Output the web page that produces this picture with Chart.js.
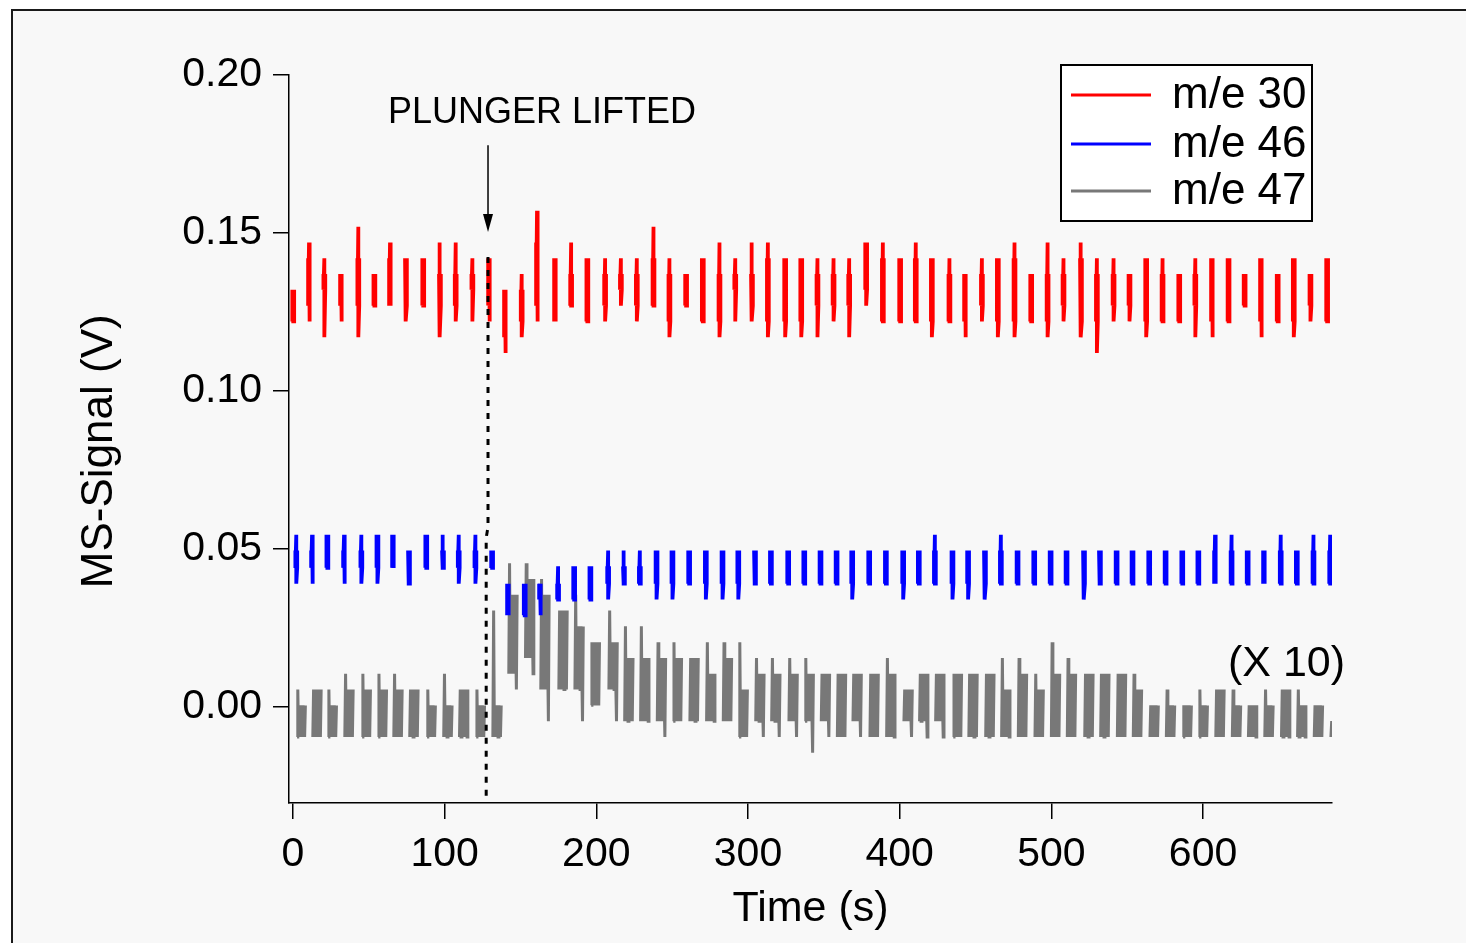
<!DOCTYPE html>
<html>
<head>
<meta charset="utf-8">
<script src="https://cdn.jsdelivr.net/npm/chart.js@4.4.1/dist/chart.umd.min.js"></script>
<style>
html, body { margin: 0; padding: 0; background: #fff; }
#wrap { width: 1466px; height: 943px; }
</style>
</head>
<body>
<div id="wrap"><canvas id="chartMS"></canvas></div>
<script>
// start time (s) of each multiplexed MS scan
const scanTimes = [0.2, 10.6, 20.7, 31.7, 43.1, 53.7, 64.0, 74.5, 85.9, 96.9,
    107.3, 118.3, 129.3, 139.8, 150.8, 160.9, 172.8, 183.4, 194.1, 205.8,
    216.2, 226.7, 237.7, 248.2, 259.2, 270.2, 281.2, 291.6, 302.6, 313.1,
    324.5, 335.1, 345.8, 356.4, 366.7, 377.9, 388.9, 400.3, 410.6, 421.2,
    432.8, 443.1, 454.2, 464.7, 475.7, 486.7, 497.5, 508.0, 519.5, 530.0,
    541.0, 551.5, 562.5, 573.3, 584.3, 594.9, 605.9, 616.8, 627.4, 638.2,
    649.2, 659.8, 670.8, 681.8];

// channel lag inside a scan and dwell of m/e 47 (s)
const lag46 = 2.0;
const lag47 = 2.5;
const dwell47 = 5.5;

// m/e 30: extremes and dense core of every scan (V)
const lo30 = [.122, .122, .117, .122, .117, .127, .127, .122, .127, .117,
    .122, .122, .122, .112, .117, .122, .122, .127, .122, .122,
    .127, .122, .127, .117, .127, .122, .117, .122, .122, .117,
    .117, .117, .117, .122, .117, .127, .122, .122, .122, .117,
    .122, .117, .122, .117, .117, .122, .117, .122, .117, .112,
    .122, .122, .117, .122, .122, .117, .117, .122, .127, .117,
    .122, .117, .122, .122];
const hi30 = [.132, .147, .142, .137, .152, .137, .147, .142, .142, .147,
    .147, .142, .142, .132, .137, .157, .142, .147, .142, .142,
    .142, .142, .152, .142, .137, .142, .147, .142, .147, .147,
    .142, .142, .142, .142, .142, .147, .147, .142, .147, .142,
    .142, .137, .142, .142, .147, .137, .147, .142, .147, .142,
    .142, .137, .142, .142, .137, .142, .142, .142, .137, .142,
    .137, .142, .137, .142];
const coreLo30 = [.122, .127, .132, .127, .127, .127, .127, .127, .127, .127,
    .127, .132, .127, .117, .122, .127, .122, .127, .122, .127,
    .132, .127, .127, .122, .127, .122, .122, .132, .127, .122,
    .122, .122, .127, .127, .127, .132, .122, .122, .122, .122,
    .122, .122, .127, .122, .122, .122, .122, .127, .122, .122,
    .127, .127, .122, .122, .122, .127, .122, .122, .127, .122,
    .122, .122, .127, .122];
const coreHi30 = [.132, .142, .137, .137, .142, .137, .142, .142, .142, .137,
    .137, .137, .142, .132, .132, .147, .142, .137, .142, .137,
    .137, .137, .142, .137, .137, .142, .137, .137, .137, .142,
    .142, .142, .137, .137, .137, .147, .142, .142, .142, .142,
    .137, .137, .137, .142, .142, .137, .137, .137, .142, .137,
    .137, .137, .142, .137, .137, .137, .142, .142, .137, .142,
    .137, .142, .137, .142];

// m/e 46
const lo46 = [.039, .039, .044, .039, .039, .039, .044, .039, .044, .044,
    .039, .039, .044, .029, .029, .029, .034, .034, .034, .034,
    .039, .039, .034, .034, .039, .034, .034, .034, .039, .039,
    .039, .039, .039, .039, .034, .039, .039, .034, .039, .039,
    .034, .034, .034, .039, .039, .039, .039, .039, .034, .039,
    .039, .039, .039, .039, .039, .039, .039, .039, .039, .039,
    .039, .039, .039, .039];
const hi46 = [.0545, .0545, .0545, .0545, .0545, .0545, .0545, .0495, .0545, .0545,
    .0545, .0545, .0495, .039, .039, .039, .0445, .0445, .0445, .0495,
    .0495, .0495, .0495, .0495, .0495, .0495, .0495, .0495, .0495, .0495,
    .0495, .0495, .0495, .0495, .0495, .0495, .0495, .0495, .0495, .0545,
    .0495, .0495, .0495, .0545, .0495, .0495, .0495, .0495, .0495, .0495,
    .0495, .0495, .0495, .0495, .0495, .0495, .0545, .0545, .0495, .0495,
    .0545, .0495, .0545, .0545];
const coreLo46 = [.044, .044, .044, .044, .044, .044, .044, .039, .044, .044,
    .044, .044, .044, .029, .029, .034, .034, .034, .034, .039,
    .039, .039, .039, .039, .039, .039, .039, .039, .039, .039,
    .039, .039, .039, .039, .039, .039, .039, .039, .039, .039,
    .039, .039, .039, .039, .039, .039, .039, .039, .039, .039,
    .039, .039, .039, .039, .039, .039, .039, .039, .039, .039,
    .039, .039, .039, .039];
const coreHi46 = [.0495, .0495, .0545, .0495, .0495, .0545, .0545, .0495, .0545, .0495,
    .0495, .0495, .0495, .039, .039, .039, .039, .0445, .0445, .0445,
    .0445, .0445, .0495, .0495, .0495, .0495, .0495, .0495, .0495, .0495,
    .0495, .0495, .0495, .0495, .0495, .0495, .0495, .0495, .0495, .0495,
    .0495, .0495, .0495, .0495, .0495, .0495, .0495, .0495, .0495, .0495,
    .0495, .0495, .0495, .0495, .0495, .0495, .0495, .0495, .0495, .0495,
    .0495, .0495, .0495, .0495];

// m/e 47 (plotted x 10)
const lo47 = [-.0095, -.0095, -.0095, -.0095, -.0095, -.0095, -.0095, -.0095, -.0095, -.0095,
    -.0095, -.0095, -.0095, .0055, .0105, -.0045, .0055, -.0045, .0005, -.0045,
    -.0045, -.0045, -.0095, -.0045, -.0045, -.0045, -.0045, -.0095, -.0095, -.0095,
    -.0095, -.0145, -.0095, -.0095, -.0095, -.0095, -.0095, -.0095, -.0095, -.0095,
    -.0095, -.0095, -.0095, -.0095, -.0095, -.0095, -.0095, -.0095, -.0095, -.0095,
    -.0095, -.0095, -.0095, -.0095, -.0095, -.0095, -.0095, -.0095, -.0095, -.0095,
    -.0095, -.0095, -.0095, -.0095];
const hi47 = [.0055, .0055, .0055, .0105, .0105, .0105, .0105, .0055, .0055, .0105,
    .0055, .0055, .0305, .0455, .0455, .0405, .0305, .0355, .0205, .0305,
    .0255, .0255, .0205, .0205, .0155, .0205, .0205, .0205, .0155, .0155,
    .0155, .0155, .0105, .0105, .0105, .0105, .0155, .0055, .0105, .0105,
    .0105, .0105, .0105, .0155, .0155, .0105, .0205, .0155, .0105, .0105,
    .0105, .0105, .0005, .0055, .0005, .0055, .0055, .0055, .0005, .0055,
    .0055, .0055, .0005, -.0045];
const coreLo47 = [-.0095, -.0095, -.0095, -.0095, -.0095, -.0095, -.0095, -.0095, -.0095, -.0095,
    -.0095, -.0095, -.0095, .0105, .0155, .0055, .0055, .0055, .0005, .0055,
    -.0045, -.0045, -.0045, -.0045, -.0045, -.0045, -.0045, -.0095, -.0045, -.0045,
    -.0045, -.0045, -.0045, -.0095, -.0045, -.0095, -.0095, -.0045, -.0045, -.0045,
    -.0095, -.0095, -.0095, -.0095, -.0095, -.0095, -.0095, -.0095, -.0095, -.0095,
    -.0095, -.0095, -.0095, -.0095, -.0095, -.0095, -.0095, -.0095, -.0095, -.0095,
    -.0095, -.0095, -.0095, -.0095];
const coreHi47 = [.0005, .0055, .0005, .0055, .0055, .0055, .0055, .0055, .0005, .0005,
    .0055, .0005, .0005, .0355, .0405, .0355, .0305, .0255, .0205, .0205,
    .0155, .0155, .0155, .0155, .0155, .0105, .0155, .0055, .0105, .0105,
    .0105, .0105, .0105, .0105, .0105, .0105, .0105, .0055, .0105, .0105,
    .0105, .0105, .0105, .0055, .0105, .0055, .0105, .0105, .0105, .0105,
    .0105, .0055, .0005, .0005, .0005, .0005, .0055, .0005, .0005, .0005,
    .0055, .0005, .0005, -.0045];

const xTicks = [0, 100, 200, 300, 400, 500, 600];
const yTicks = [0, 0.05, 0.10, 0.15, 0.20];

// m/e 30 and 46: each scan is a narrow stick, thin full range plus a denser core
function stickData(lag, lo, hi, cLo, cHi) {
    const pts = [];
    for (let i = 0; i < scanTimes.length; i++) {
        const t = scanTimes[i] + lag;
        pts.push({x: t - 0.6, y: cHi[i]}, {x: t - 0.6, y: cLo[i]},
            {x: t, y: hi[i]}, {x: t, y: lo[i]},
            {x: t + 0.6, y: cLo[i]}, {x: t + 0.6, y: cHi[i]});
        pts.push({x: t + 1, y: null});
    }
    return pts;
}

// m/e 47 is sampled over a longer dwell, so each scan makes a wider block
function blockData(lag, dwell, lo, hi, cLo, cHi) {
    const pts = [];
    for (let i = 0; i < scanTimes.length; i++) {
        const t0 = scanTimes[i] + lag;
        pts.push({x: t0, y: cLo[i]}, {x: t0 + 0.5, y: hi[i]}, {x: t0 + 1.0, y: cLo[i]});
        let up = true;
        for (let dt = 1.6; dt < dwell - 0.9; dt += 0.6) {
            pts.push({x: t0 + dt, y: up ? cHi[i] : cLo[i]});
            up = !up;
        }
        pts.push({x: t0 + dwell - 0.5, y: lo[i]}, {x: t0 + dwell, y: cHi[i]});
        pts.push({x: t0 + dwell + 0.5, y: null});
    }
    return pts;
}

const FONT = '"Liberation Sans", Arial, Helvetica, sans-serif';

const frame = {
    id: 'frame',
    beforeDraw(chart) {
        const c = chart.ctx;
        c.save();
        c.fillStyle = '#ffffff';
        c.fillRect(0, 0, chart.width, chart.height);
        c.fillStyle = '#f8f8f8';
        c.fillRect(13, 11, chart.width, chart.height);
        c.strokeStyle = '#1a1a1a';
        c.lineWidth = 2;
        c.strokeRect(12, 10, chart.width + 20, chart.height + 20);
        c.restore();
    }
};

// arrow, "PLUNGER LIFTED", "(X 10)"
const notes = {
    id: 'notes',
    afterDatasetsDraw(chart) {
        const c = chart.ctx, xs = chart.scales.x, ys = chart.scales.y;
        const ax = xs.getPixelForValue(128.6);
        const aTop = ys.getPixelForValue(0.1778), aTip = ys.getPixelForValue(0.1503);
        c.save();
        c.strokeStyle = '#000';
        c.fillStyle = '#000';
        c.lineWidth = 1.5;
        c.beginPath();
        c.moveTo(ax, aTop);
        c.lineTo(ax, aTip - 10);
        c.stroke();
        c.beginPath();
        c.moveTo(ax - 5, aTip - 18);
        c.lineTo(ax + 5, aTip - 18);
        c.lineTo(ax, aTip);
        c.closePath();
        c.fill();
        c.font = '36px ' + FONT;
        c.textAlign = 'center';
        c.textBaseline = 'middle';
        c.fillText('PLUNGER LIFTED', xs.getPixelForValue(164.2), ys.getPixelForValue(0.1880));
        c.font = '43px ' + FONT;
        c.fillText('(X 10)', xs.getPixelForValue(655), ys.getPixelForValue(0.0136));
        c.restore();
    }
};

const legendBox = {
    id: 'legendBox',
    afterDraw(chart) {
        const c = chart.ctx;
        const rows = [95, 144, 191];
        c.save();
        c.fillStyle = '#ffffff';
        c.fillRect(1061, 65, 251, 156);
        c.strokeStyle = '#000';
        c.lineWidth = 2;
        c.strokeRect(1061, 65, 251, 156);
        c.font = '44px ' + FONT;
        c.textAlign = 'left';
        c.textBaseline = 'middle';
        for (let i = 0; i < 3; i++) {
            const ds = chart.data.datasets[i];
            c.strokeStyle = ds.borderColor;
            c.lineWidth = 3;
            c.beginPath();
            c.moveTo(1071, rows[i]);
            c.lineTo(1151, rows[i]);
            c.stroke();
            c.fillStyle = '#000';
            c.fillText(ds.label, 1172, rows[i] + 1);
        }
        c.restore();
    }
};

window.onload = function () {
    const ctx = document.getElementById('chartMS').getContext('2d');
    new Chart(ctx, {
        type: 'line',
        data: {
            datasets: [{
                label: 'm/e 30',
                data: stickData(0, lo30, hi30, coreLo30, coreHi30),
                borderColor: '#ff0000',
                borderWidth: 3.8,
                order: 1
            }, {
                label: 'm/e 46',
                data: stickData(lag46, lo46, hi46, coreLo46, coreHi46),
                borderColor: '#0000ff',
                borderWidth: 3.8,
                order: 2
            }, {
                label: 'm/e 47',
                data: blockData(lag47, dwell47, lo47, hi47, coreLo47, coreHi47),
                borderColor: '#787878',
                borderWidth: 3,
                order: 3
            }, {
                label: 'plunger',
                data: [{x: 128.6, y: 0.1424}, {x: 128.6, y: 0.057}, {x: 127.4, y: 0.0535}, {x: 127.4, y: -0.0304}],
                borderColor: '#000000',
                borderWidth: 3,
                borderDash: [6, 7],
                order: 0
            }]
        },
        options: {
            responsive: true,
            maintainAspectRatio: false,
            animation: false,
            spanGaps: false,
            layout: { padding: { top: 75, right: 134, left: 0, bottom: 0 } },
            elements: { point: { radius: 0 }, line: { tension: 0, borderCapStyle: 'butt' } },
            plugins: { legend: { display: false }, tooltip: { enabled: false } },
            scales: {
                x: {
                    type: 'linear',
                    min: -2.6,
                    max: 685,
                    afterFit(s) { s.height = 140; },
                    afterBuildTicks(s) { s.ticks = xTicks.map(v => ({value: v})); },
                    grid: { drawOnChartArea: false, drawTicks: true, tickLength: 16, color: '#000', lineWidth: 1.5 },
                    border: { display: true, color: '#000', width: 1.5 },
                    ticks: { color: '#000', padding: 11, maxRotation: 0, font: { family: FONT, size: 41 } },
                    title: { display: true, text: 'Time (s)', color: '#000', padding: { bottom: 8, top: 0 }, font: { family: FONT, size: 43 } }
                },
                y: {
                    type: 'linear',
                    min: -0.0304,
                    max: 0.2,
                    afterFit(s) { s.width = 289; },
                    afterBuildTicks(s) { s.ticks = yTicks.map(v => ({value: v})); },
                    grid: { drawOnChartArea: false, drawTicks: true, tickLength: 16, color: '#000', lineWidth: 1.5 },
                    border: { display: true, color: '#000', width: 1.5 },
                    ticks: { color: '#000', padding: 11, font: { family: FONT, size: 41 }, callback: v => v.toFixed(2) },
                    title: { display: true, text: 'MS-Signal (V)\u00a0\u00a0', color: '#000', padding: { top: 73, bottom: 0 }, font: { family: FONT, size: 44 } }
                }
            }
        },
        plugins: [frame, notes, legendBox]
    });
};
</script>
</body>
</html>
